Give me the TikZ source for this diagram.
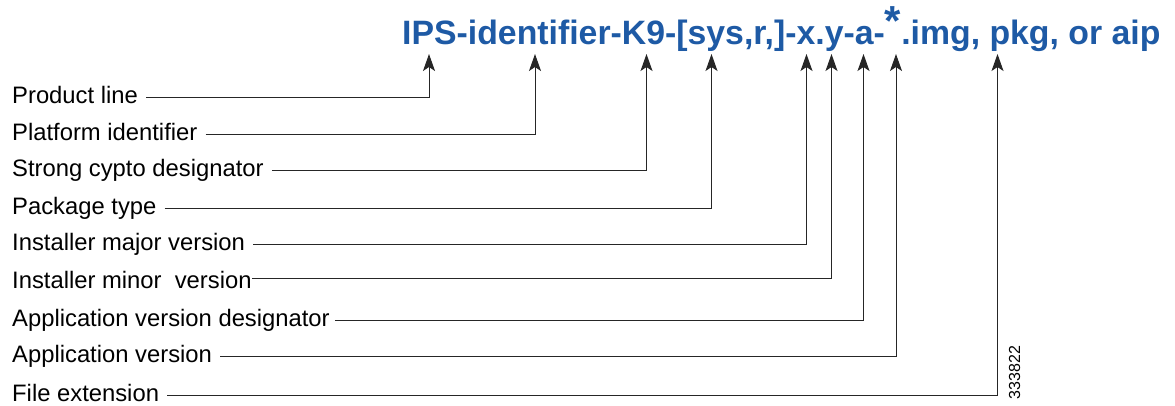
\documentclass[tikz,border=0pt]{standalone}
\usepackage{fontspec}
\setmainfont{Liberation Sans}
\usepackage{tikz}
\usetikzlibrary{arrows.meta, positioning, calc}
\definecolor{idblue}{RGB}{30,90,165}

\begin{document}
\begin{tikzpicture}[x=1pt, y=-1pt,
  lbl/.style={anchor=west, inner sep=0pt, text height=12.4pt, text depth=0pt, font=\fontsize{23.8}{26}\selectfont},
  tip/.style={black!85, line width=1pt, -{Stealth[length=17pt, width=12pt, inset=4pt]}}]
\useasboundingbox (0,0) rectangle (1175,405);

\node[anchor=base west, inner sep=0pt, text=idblue, font=\fontsize{33.8}{38}\selectfont\bfseries] (title) at (402,44)
  {IPS-identifier-K9-[sys,r,]-x.y-a-\raisebox{9pt}{\fontsize{42}{42}\selectfont *}.img, pkg, or aip};

\coordinate (aprod) at (429,54);
\coordinate (aplat) at (535,54);
\coordinate (acrypt) at (646.5,54);
\coordinate (apkg) at (711.5,54);
\coordinate (amaj) at (806.5,54);
\coordinate (amin) at (831.5,54);
\coordinate (adesig) at (863.5,54);
\coordinate (aver) at (896,54);
\coordinate (aext) at (997.5,54);

\node[lbl] (prod) at (12,97) {Product line};
\node[lbl] (plat) at (12,134) {Platform identifier};
\node[lbl] (crypt) at (12,170.5) {Strong cypto designator\ };
\node[lbl] (pkg) at (12,208) {Package type};
\node[lbl] (maj) at (12,244) {Installer major version};
\node[lbl] (min) at (12,282) {Installer minor\ \ version};
\node[lbl] (desig) at (12,320) {Application version designator\ };
\node[lbl] (ver) at (12,356) {Application version};
\node[lbl] (ext) at (12,395) {File extension};

\draw[tip] ([xshift=8pt]prod.east) -| (aprod);
\draw[tip] ([xshift=8pt]plat.east) -| (aplat);
\draw[tip] ([xshift=8pt]crypt.east) -| (acrypt);
\draw[tip] ([xshift=8pt]pkg.east) -| (apkg);
\draw[tip] ([xshift=8pt]maj.east) -| (amaj);
\draw[tip] ([yshift=4pt]min.east) -| (amin);
\draw[tip] ([xshift=5pt]desig.east) -| (adesig);
\draw[tip] ([xshift=8pt]ver.east) -| (aver);
\draw[tip] ([xshift=8pt]ext.east) -| (aext);

\node[rotate=90, inner sep=0pt, font=\fontsize{16}{16}\selectfont] (fignum) at (1014.5,372.5) {333822};
\end{tikzpicture}
\end{document}
